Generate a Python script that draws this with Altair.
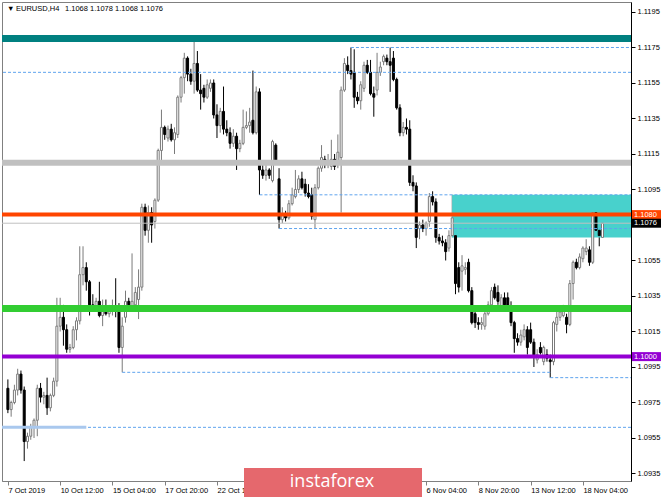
import json
import altair as alt
import pandas as pd

# EURUSD H4 candles, oldest first (bar 0 = 7 Oct 2019 20:00)
bar_open = [
    1.0983, 1.0971, 1.0975, 1.0982, 1.0991, 1.0982, 1.0953, 1.0956, 1.0961, 1.0965,
    1.0983, 1.0978, 1.0979, 1.0972, 1.0979, 1.0987, 1.1018, 1.1023, 1.1016, 1.1005,
    1.1006, 1.1016, 1.1021, 1.1047, 1.1051, 1.1043, 1.1030, 1.1028, 1.1032, 1.1024,
    1.1029, 1.1025, 1.1027, 1.1029, 1.1027, 1.1006, 1.1023, 1.1032, 1.1027, 1.1030,
    1.1033, 1.1040, 1.1085, 1.1072, 1.1082, 1.1077, 1.1089, 1.1117, 1.1130, 1.1124,
    1.1129, 1.1123, 1.1126, 1.1147, 1.1158, 1.1169, 1.1160, 1.1156, 1.1166, 1.1151,
    1.1152, 1.1147, 1.1152, 1.1155, 1.1137, 1.1131, 1.1139, 1.1129, 1.1127, 1.1121,
    1.1125, 1.1118, 1.1121, 1.1130, 1.1131, 1.1134, 1.1127, 1.1150, 1.1106, 1.1103,
    1.1106, 1.1100, 1.1120, 1.1101, 1.1078, 1.1081, 1.1079, 1.1087, 1.1091, 1.1095,
    1.1101, 1.1098, 1.1093, 1.1092, 1.1078, 1.1096, 1.1107, 1.1112, 1.1109, 1.1108,
    1.1112, 1.1109, 1.1113, 1.1151, 1.1165, 1.1162, 1.1161, 1.1147, 1.1145, 1.1152,
    1.1165, 1.1161, 1.1149, 1.1151, 1.1161, 1.1167, 1.1169, 1.1167, 1.1169, 1.1157,
    1.1141, 1.1127, 1.1130, 1.1129, 1.1099, 1.1097, 1.1073, 1.1075, 1.1073, 1.1077,
    1.1091, 1.1088, 1.1068, 1.1066, 1.1065, 1.1062, 1.1069, 1.1069, 1.1051, 1.1049,
    1.1050, 1.1054, 1.1038, 1.1025, 1.1020, 1.1019, 1.1018, 1.1025, 1.1030, 1.1040,
    1.1037, 1.1029, 1.1034, 1.1034, 1.1029, 1.1020, 1.1011, 1.1009, 1.1012, 1.1016,
    1.1016, 1.1009, 1.0999, 1.1006, 1.0998, 1.1002, 1.0999, 1.0998, 1.1019, 1.1023,
    1.1024, 1.1023, 1.1019, 1.1042, 1.1054, 1.1051, 1.1056, 1.1060, 1.1061, 1.1054,
    1.1082, 1.1072, 1.1068,
]
bar_high = [
    1.0988, 1.0976, 1.0985, 1.0994, 1.0993, 1.0984, 1.0958, 1.0963, 1.0966, 1.0985,
    1.0986, 1.0981, 1.0989, 1.0980, 1.0989, 1.1034, 1.1034, 1.1030, 1.1019, 1.1008,
    1.1018, 1.1023, 1.1063, 1.1063, 1.1054, 1.1044, 1.1036, 1.1034, 1.1043, 1.1033,
    1.1033, 1.1030, 1.1033, 1.1045, 1.1031, 1.1023, 1.1038, 1.1034, 1.1059, 1.1040,
    1.1050, 1.1087, 1.1087, 1.1086, 1.1085, 1.1090, 1.1118, 1.1140, 1.1131, 1.1131,
    1.1132, 1.1130, 1.1148, 1.1159, 1.1172, 1.1170, 1.1163, 1.1179, 1.1173, 1.1160,
    1.1154, 1.1157, 1.1157, 1.1157, 1.1143, 1.1141, 1.1153, 1.1134, 1.1130, 1.1129,
    1.1127, 1.1123, 1.1140, 1.1139, 1.1141, 1.1162, 1.1153, 1.1152, 1.1109, 1.1109,
    1.1107, 1.1123, 1.1121, 1.1107, 1.1085, 1.1083, 1.1089, 1.1096, 1.1106, 1.1103,
    1.1105, 1.1101, 1.1098, 1.1096, 1.1098, 1.1108, 1.1120, 1.1114, 1.1115, 1.1123,
    1.1115, 1.1126, 1.1153, 1.1169, 1.1170, 1.1175, 1.1174, 1.1150, 1.1156, 1.1167,
    1.1168, 1.1168, 1.1153, 1.1172, 1.1167, 1.1171, 1.1171, 1.1175, 1.1173, 1.1158,
    1.1143, 1.1133, 1.1135, 1.1134, 1.1103, 1.1099, 1.1077, 1.1078, 1.1077, 1.1093,
    1.1094, 1.1090, 1.1070, 1.1069, 1.1067, 1.1072, 1.1092, 1.1077, 1.1054, 1.1058,
    1.1054, 1.1056, 1.1040, 1.1027, 1.1023, 1.1023, 1.1027, 1.1032, 1.1040, 1.1042,
    1.1041, 1.1036, 1.1037, 1.1037, 1.1032, 1.1021, 1.1014, 1.1016, 1.1019, 1.1018,
    1.1020, 1.1011, 1.1005, 1.1009, 1.1007, 1.1005, 1.1002, 1.1021, 1.1026, 1.1028,
    1.1030, 1.1025, 1.1044, 1.1055, 1.1056, 1.1059, 1.1063, 1.1067, 1.1063, 1.1089,
    1.1083, 1.1074, 1.1078,
]
bar_low = [
    1.0969, 1.0967, 1.0974, 1.0979, 1.0980, 1.0942, 1.0949, 1.0954, 1.0955, 1.0956,
    1.0975, 1.0974, 1.0968, 1.0970, 1.0978, 1.0984, 1.1015, 1.1007, 1.1003, 1.1003,
    1.1005, 1.1010, 1.1019, 1.1041, 1.1038, 1.1024, 1.1026, 1.1026, 1.1023, 1.1018,
    1.1024, 1.1023, 1.1024, 1.1023, 1.1003, 1.0992, 1.1020, 1.1028, 1.1026, 1.1028,
    1.1022, 1.1038, 1.1069, 1.1065, 1.1065, 1.1073, 1.1088, 1.1111, 1.1123, 1.1122,
    1.1122, 1.1115, 1.1124, 1.1144, 1.1149, 1.1156, 1.1154, 1.1149, 1.1150, 1.1140,
    1.1144, 1.1146, 1.1150, 1.1135, 1.1124, 1.1127, 1.1126, 1.1125, 1.1118, 1.1119,
    1.1106, 1.1116, 1.1120, 1.1129, 1.1127, 1.1126, 1.1126, 1.1092, 1.1101, 1.1100,
    1.1101, 1.1099, 1.1109, 1.1073, 1.1076, 1.1077, 1.1078, 1.1086, 1.1090, 1.1093,
    1.1095, 1.1091, 1.1090, 1.1078, 1.1073, 1.1095, 1.1105, 1.1107, 1.1107, 1.1106,
    1.1106, 1.1107, 1.1082, 1.1150, 1.1160, 1.1157, 1.1141, 1.1143, 1.1140, 1.1150,
    1.1160, 1.1148, 1.1136, 1.1148, 1.1159, 1.1165, 1.1165, 1.1150, 1.1156, 1.1140,
    1.1125, 1.1125, 1.1126, 1.1097, 1.1094, 1.1062, 1.1067, 1.1071, 1.1069, 1.1074,
    1.1086, 1.1065, 1.1064, 1.1063, 1.1055, 1.1060, 1.1068, 1.1036, 1.1037, 1.1038,
    1.1047, 1.1037, 1.1019, 1.1017, 1.1016, 1.1016, 1.1016, 1.1024, 1.1028, 1.1033,
    1.1030, 1.1027, 1.1028, 1.1027, 1.1018, 1.1003, 1.1007, 1.1007, 1.1010, 1.1002,
    1.1008, 1.0995, 1.0997, 1.1002, 1.0996, 1.0998, 1.0989, 1.0996, 1.1015, 1.1021,
    1.1023, 1.1014, 1.1018, 1.1033, 1.1050, 1.1050, 1.1054, 1.1058, 1.1052, 1.1053,
    1.1071, 1.1063, 1.1068,
]
bar_close = [
    1.0971, 1.0975, 1.0982, 1.0991, 1.0982, 1.0953, 1.0956, 1.0961, 1.0965, 1.0983,
    1.0978, 1.0979, 1.0972, 1.0979, 1.0987, 1.1018, 1.1023, 1.1016, 1.1005, 1.1006,
    1.1016, 1.1021, 1.1047, 1.1051, 1.1043, 1.1030, 1.1028, 1.1032, 1.1024, 1.1029,
    1.1025, 1.1027, 1.1029, 1.1027, 1.1006, 1.1018, 1.1032, 1.1030, 1.1032, 1.1037,
    1.1040, 1.1085, 1.1072, 1.1082, 1.1075, 1.1089, 1.1117, 1.1130, 1.1126, 1.1129,
    1.1123, 1.1127, 1.1147, 1.1158, 1.1169, 1.1160, 1.1156, 1.1166, 1.1151, 1.1149,
    1.1147, 1.1154, 1.1155, 1.1137, 1.1131, 1.1139, 1.1129, 1.1127, 1.1121, 1.1125,
    1.1118, 1.1121, 1.1130, 1.1131, 1.1133, 1.1127, 1.1150, 1.1106, 1.1103, 1.1106,
    1.1103, 1.1122, 1.1110, 1.1078, 1.1081, 1.1079, 1.1087, 1.1092, 1.1095, 1.1101,
    1.1096, 1.1093, 1.1091, 1.1080, 1.1096, 1.1107, 1.1113, 1.1109, 1.1111, 1.1112,
    1.1108, 1.1116, 1.1151, 1.1166, 1.1162, 1.1160, 1.1147, 1.1145, 1.1154, 1.1165,
    1.1161, 1.1149, 1.1147, 1.1161, 1.1164, 1.1170, 1.1167, 1.1165, 1.1157, 1.1141,
    1.1127, 1.1130, 1.1129, 1.1099, 1.1097, 1.1068, 1.1075, 1.1073, 1.1076, 1.1091,
    1.1088, 1.1068, 1.1066, 1.1065, 1.1060, 1.1069, 1.1079, 1.1042, 1.1040, 1.1052,
    1.1051, 1.1038, 1.1020, 1.1020, 1.1019, 1.1020, 1.1025, 1.1030, 1.1038, 1.1034,
    1.1032, 1.1034, 1.1030, 1.1029, 1.1020, 1.1011, 1.1009, 1.1013, 1.1016, 1.1006,
    1.1009, 1.1001, 1.1002, 1.1003, 1.1006, 1.1000, 1.0998, 1.1020, 1.1023, 1.1026,
    1.1027, 1.1019, 1.1042, 1.1054, 1.1051, 1.1057, 1.1062, 1.1062, 1.1054, 1.1082,
    1.1072, 1.1069, 1.1076,
]

# time axis: labelled bars (every 16th bar; the ones under the badge are left out)
time_ticks = [0, 16, 32, 48, 64, 128, 144, 160, 176]
time_labels = [
    "7 Oct 2019", "10 Oct 12:00", "15 Oct 04:00", "17 Oct 20:00", "22 Oct 12:00",
    "6 Nov 04:00", "8 Nov 20:00", "13 Nov 12:00", "18 Nov 04:00",
]
price_ticks = [1.0935, 1.0955, 1.0975, 1.0995, 1.1015, 1.1035, 1.1055,
               1.1095, 1.1115, 1.1135, 1.1155, 1.1175, 1.1195]

# plain horizontal levels: price, colour, width
level_price = [1.1180, 1.1110, 1.1028, 1.1076]
level_color = ["#008080", "#C0C0C0", "#32CD32", "#C0C0C0"]
level_width = [7, 6, 7, 1]

# levels that carry a price tag on the scale
tagged_price = [1.1080, 1.1000]
tagged_color = ["#FF4500", "#9400D3"]
tagged_width = [4, 4]

# dotted support / resistance lines: price, first bar, last bar (None = chart edge)
dash_price = [1.1161, 1.1175, 1.1092, 1.1073, 1.0992, 1.0989, 1.0961]
dash_start = [None, 105, 77, 83, 35, 166, None]
dash_end = [None, None, None, None, 166, None, None]

# shaded zone
zone_start, zone_top, zone_bottom = 136, 1.1092, 1.1068
# short solid marker on the 1.0961 level
marker_price, marker_end = 1.0961, 24

W, H = 629, 479
FONT = "Liberation Sans"
xs = alt.Scale(domain=[-0.27, 189.19], nice=False, zero=False)
ys = alt.Scale(domain=[1.093077, 1.120063], nice=False, zero=False)

n = len(bar_close)
candles = pd.DataFrame({
    "i": list(range(n)),
    "open": bar_open, "high": bar_high, "low": bar_low, "close": bar_close,
})
bull = candles["close"] >= candles["open"]
candles["fill"] = ["#FFFFFF" if b else "#000000" for b in bull]
candles["edge"] = ["#7A7A7A" if b else "#000000" for b in bull]

label_map = json.dumps({str(t): s for t, s in zip(time_ticks, time_labels)})
label_expr = label_map + "[''+datum.value]"
x_axis = alt.Axis(
    values=time_ticks, labelExpr=label_expr,
    title=None, grid=False, orient="bottom", domainColor="#808080",
    tickColor="#808080", tickSize=4, labelAlign="left", labelPadding=1,
    labelFont=FONT, labelFontSize=7.5, labelColor="#000000", labelFlush=False,
    labelOverlap=False, labelBound=False, zindex=0,
)
y_axis = alt.Axis(
    values=price_ticks, format=".4f", title=None, grid=False, orient="right",
    domainColor="#000000", tickColor="#000000", tickSize=4, labelPadding=2,
    labelFont=FONT, labelFontSize=7.5, labelColor="#000000", labelFlush=False,
    labelOverlap=False, labelBound=False, zindex=0,
)

base = alt.Chart(candles)
wicks = base.mark_rule(strokeWidth=1).encode(
    x=alt.X("i:Q", scale=xs, axis=x_axis),
    y=alt.Y("low:Q", scale=ys, axis=y_axis),
    y2="high:Q",
    color=alt.Color("edge:N", scale=None),
)
bodies = base.mark_bar(size=2, strokeWidth=1).encode(
    x=alt.X("i:Q", scale=xs, axis=None),
    y=alt.Y("open:Q", scale=ys, axis=None),
    y2="close:Q",
    fill=alt.Fill("fill:N", scale=None),
    stroke=alt.Stroke("edge:N", scale=None),
)

zone = alt.Chart(pd.DataFrame({"s": [zone_start], "t": [zone_top], "b": [zone_bottom]})).mark_rect(
    color="#48D1CC", opacity=1
).encode(
    x=alt.X("s:Q", scale=xs, axis=None), x2=alt.value(W),
    y=alt.Y("t:Q", scale=ys, axis=None), y2="b:Q",
)

levels = alt.Chart(pd.DataFrame({"p": level_price, "c": level_color, "w": level_width})).mark_rule().encode(
    y=alt.Y("p:Q", scale=ys, axis=None),
    color=alt.Color("c:N", scale=None),
    strokeWidth=alt.StrokeWidth("w:Q", scale=None),
)

# tagged levels sit on the pixel row just above their price, like the terminal draws them
tagged_df = pd.DataFrame({"p": tagged_price, "c": tagged_color, "w": tagged_width})
tagged = alt.Chart(tagged_df).mark_rule(yOffset=-1.5).encode(
    y=alt.Y("p:Q", scale=ys, axis=None),
    color=alt.Color("c:N", scale=None),
    strokeWidth=alt.StrokeWidth("w:Q", scale=None),
)

dash_df = pd.DataFrame({"p": dash_price, "s": dash_start, "e": dash_end})
dash_kw = dict(color="#5FA4EE", strokeWidth=1, strokeDash=[3, 2])
dash_full = alt.Chart(dash_df[dash_df["s"].isna()][["p"]]).mark_rule(**dash_kw).encode(
    y=alt.Y("p:Q", scale=ys, axis=None))
dash_open = alt.Chart(dash_df[dash_df["s"].notna() & dash_df["e"].isna()][["p", "s"]]).mark_rule(**dash_kw).encode(
    x=alt.X("s:Q", scale=xs, axis=None), x2=alt.value(W),
    y=alt.Y("p:Q", scale=ys, axis=None))
dash_seg = alt.Chart(dash_df[dash_df["e"].notna()]).mark_rule(**dash_kw).encode(
    x=alt.X("s:Q", scale=xs, axis=None), x2="e:Q",
    y=alt.Y("p:Q", scale=ys, axis=None))

marker = alt.Chart(pd.DataFrame({"p": [marker_price], "e": [marker_end]})).mark_rule(
    color="#A9C8EE", strokeWidth=3
).encode(
    x=alt.X("e:Q", scale=xs, axis=None), x2=alt.value(0),
    y=alt.Y("p:Q", scale=ys, axis=None),
)

# price tags on the right scale: the two tagged levels plus the last close
tag_df = pd.DataFrame({
    "p": tagged_price + [bar_close[-1]],
    "c": tagged_color + ["#000000"],
    "off": [-1.5, -1.5, 0.0],
})
tag_layers = []
for off, part in tag_df.groupby("off"):
    tag_layers.append(alt.Chart(part).mark_rule(strokeWidth=9, yOffset=off).encode(
        x=alt.value(W + 1), x2=alt.value(W + 30),
        y=alt.Y("p:Q", scale=ys, axis=None),
        color=alt.Color("c:N", scale=None),
    ))
    tag_layers.append(alt.Chart(part).mark_text(
        align="left", baseline="middle", color="#FFFFFF", font=FONT, fontSize=7.5,
        yOffset=off,
    ).encode(
        x=alt.value(W + 3), y=alt.Y("p:Q", scale=ys, axis=None),
        text=alt.Text("p:Q", format=".4f"),
    ))

last = n - 1
quote = " ".join(f"{v:.4f}" for v in (bar_open[last], bar_high[last], bar_low[last], bar_close[last]))
head_df = pd.DataFrame({"t": ["\u25BC", "EURUSD,H4", quote], "x": [5, 14, 63]})
header = alt.Chart(head_df).mark_text(
    align="left", baseline="middle", font=FONT, fontSize=7.5, color="#000000"
).encode(x=alt.X("x:Q", scale=None, axis=None), y=alt.value(7), text="t:N")

badge = alt.Chart(pd.DataFrame({"t": ["instaforex"]})).mark_rect(color="#E5686D").encode(
    x=alt.value(242), x2=alt.value(420), y=alt.value(466), y2=alt.value(495))
badge_text = alt.Chart(pd.DataFrame({"t": ["instaforex"]})).mark_text(
    color="#FFFFFF", font="Open Sans", fontSize=18, align="center", baseline="middle"
).encode(x=alt.value(330), y=alt.value(480), text="t:N")

chart = alt.layer(
    wicks, zone, bodies, levels, tagged, dash_full, dash_open, dash_seg, marker,
    *tag_layers, header, badge, badge_text,
).resolve_axis(
    x="independent", y="independent"
).properties(
    width=W, height=H,
    autosize=alt.AutoSizeParams(type="none"),
    padding={"left": 2, "top": 2, "right": 34, "bottom": 18},
    background="#FFFFFF",
).configure_view(stroke="#808080", strokeWidth=1)

chart.save("out.html", embed_options={"renderer": "svg", "actions": False})
